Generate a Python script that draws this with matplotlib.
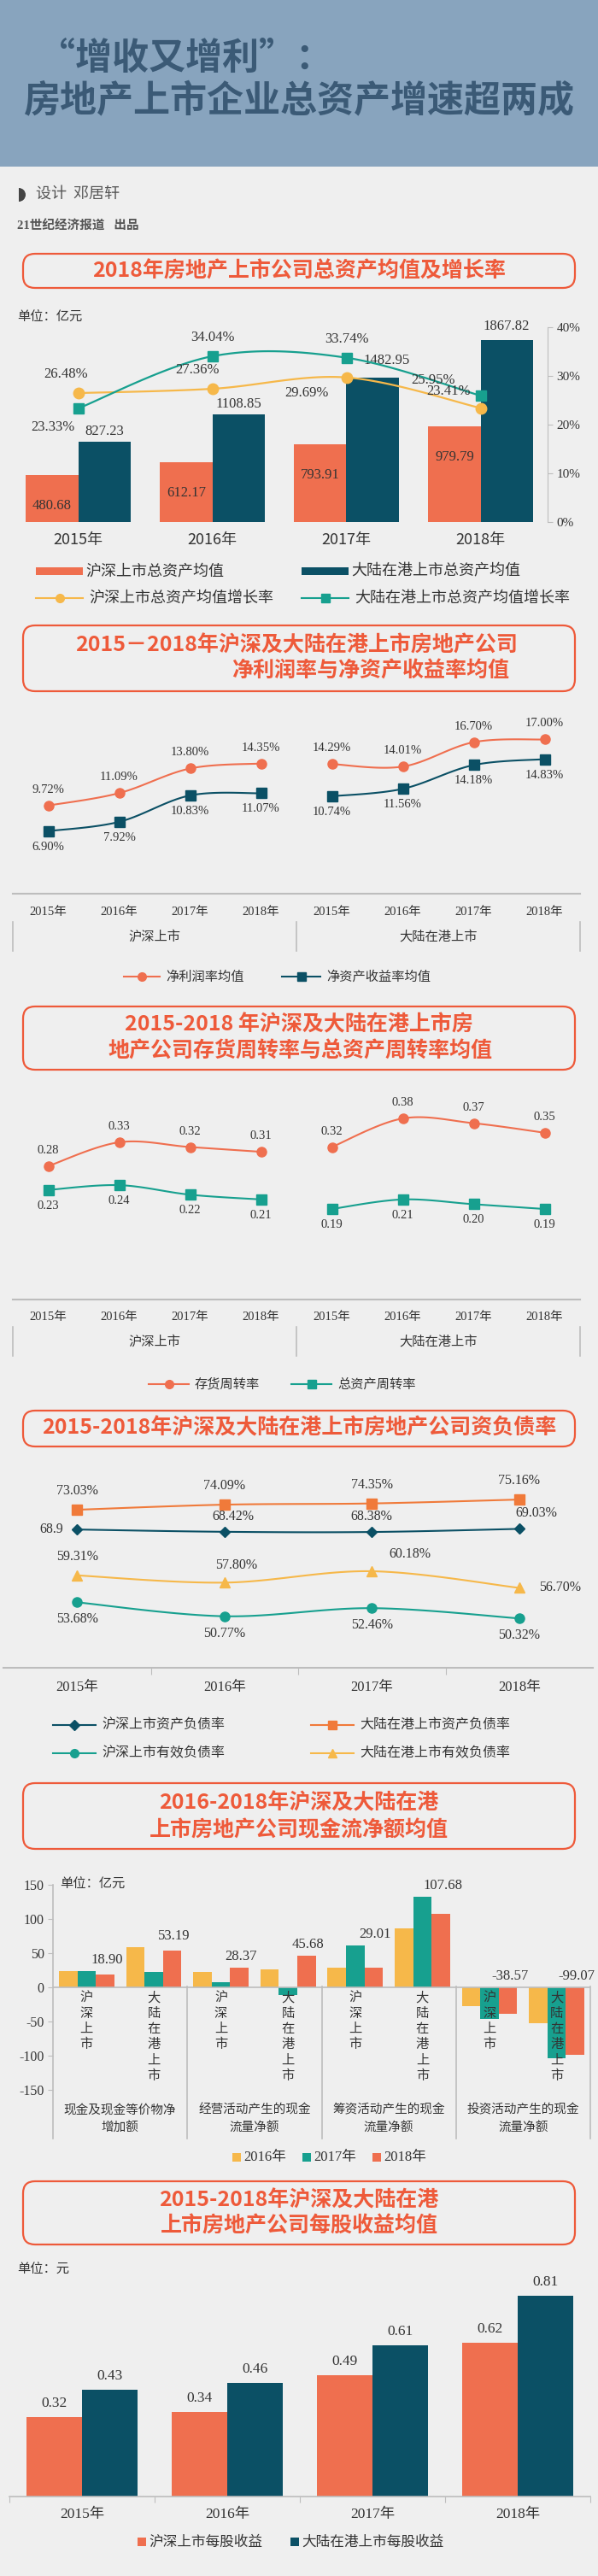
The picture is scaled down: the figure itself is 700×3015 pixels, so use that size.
import numpy as np
import matplotlib
matplotlib.use("Agg")
import matplotlib.pyplot as plt
from matplotlib.patches import Rectangle, FancyBboxPatch, Wedge
from matplotlib.lines import Line2D

plt.rcParams['font.family'] = ['Noto Sans CJK SC', 'DejaVu Sans']
SERIF = ['Liberation Serif', 'Noto Sans CJK SC']

# ---- data ----
years = ['2015年', '2016年', '2017年', '2018年']

# chart 1: total assets (亿元) and growth
sh_assets = [480.68, 612.17, 793.91, 979.79]
hk_assets = [827.23, 1108.85, 1482.95, 1867.82]
sh_growth = [26.48, 27.36, 29.69, 23.41]
hk_growth = [23.33, 34.04, 33.74, 25.95]

# chart 2: net profit margin / ROE
sh_npm = [9.72, 11.09, 13.80, 14.35]
sh_roe = [6.90, 7.92, 10.83, 11.07]
hk_npm = [14.29, 14.01, 16.70, 17.00]
hk_roe = [10.74, 11.56, 14.18, 14.83]

# chart 3: inventory / total asset turnover
sh_inv = [0.28, 0.33, 0.32, 0.31]
sh_tat = [0.23, 0.24, 0.22, 0.21]
hk_inv = [0.32, 0.38, 0.37, 0.35]
hk_tat = [0.19, 0.21, 0.20, 0.19]

# chart 4: debt ratios
sh_debt = [68.90, 68.42, 68.38, 69.03]
hk_debt = [73.03, 74.09, 74.35, 75.16]
sh_eff = [53.68, 50.77, 52.46, 50.32]
hk_eff = [59.31, 57.80, 60.18, 56.70]

# chart 5: cash flow (亿元), 8 bars groups: (沪深, 大陆) x 4 items
cf_items = ['现金及现金等价物净\n增加额', '经营活动产生的现金\n流量净额',
            '筹资活动产生的现金\n流量净额', '投资活动产生的现金\n流量净额']
cf_2016 = [24, 59, 22, 26, 29, 86, -28, -52]
cf_2017 = [24, 22, 8, -11, 61, 133, -46, -104]
cf_2018 = [18.90, 53.19, 28.37, 45.68, 29.01, 107.68, -38.57, -99.07]

# chart 6: EPS (元)
sh_eps = [0.32, 0.34, 0.49, 0.62]
hk_eps = [0.43, 0.46, 0.61, 0.81]

# ---- colors ----
BG = '#efefef'
ORANGE = '#ef6f4f'
NAVY = '#0b5065'
TEAL = '#17a08f'
YELLOW = '#f6b84a'
RED = '#ee5a3a'
GRID = '#bdbdbd'
TXT = '#333333'

W, H = 700, 3015
fig = plt.figure(figsize=(7, 30.15), dpi=100, facecolor=BG)

ov = fig.add_axes([0, 0, 1, 1], zorder=0)
ov.set_xlim(0, W)
ov.set_ylim(H, 0)
ov.axis('off')


def px_axes(x0, y0, x1, y1):
    a = fig.add_axes([x0 / W, 1 - y1 / H, (x1 - x0) / W, (y1 - y0) / H], zorder=2)
    a.set_facecolor('none')
    for s in a.spines.values():
        s.set_visible(False)
    return a


def smooth(x, y, n=25):
    x = np.asarray(x, float)
    y = np.asarray(y, float)
    px = np.concatenate([[x[0]], x, [x[-1]]])
    py = np.concatenate([[y[0]], y, [y[-1]]])
    xs, ys = [], []
    t = np.linspace(0, 1, n)
    for i in range(1, len(px) - 2):
        for arr, out in ((px, xs), (py, ys)):
            p0, p1, p2, p3 = arr[i - 1], arr[i], arr[i + 1], arr[i + 2]
            out.append(0.5 * (2 * p1 + (-p0 + p2) * t + (2 * p0 - 5 * p1 + 4 * p2 - p3) * t ** 2
                              + (-p0 + 3 * p1 - 3 * p2 + p3) * t ** 3))
    return np.concatenate(xs), np.concatenate(ys)


def title_box(y0, y1, lines):
    ov.add_patch(FancyBboxPatch((27, y0), 646, y1 - y0, boxstyle='round,pad=0,rounding_size=14',
                                fc='none', ec=RED, lw=1.6))
    for (x, y, s) in lines:
        ov.text(x, y, s, ha='center', va='center', fontsize=18, fontweight='bold', color=RED)


def leg_line(x, y, color, marker, label, ms=7, w=48, fs=11):
    ov.add_line(Line2D([x, x + w], [y, y], color=color, lw=1.5, marker=None))
    ov.plot([x + w / 2], [y], marker=marker, color=color, ms=ms)
    ov.text(x + w + 7, y, label, va='center', fontsize=fs, color=TXT)


def leg_patch(x, y, color, label, w=10, h=10, fs=11, family=None):
    ov.add_patch(Rectangle((x, y - h / 2), w, h, fc=color, ec='none'))
    ov.text(x + w + 3, y, label, va='center', fontsize=fs, color=TXT, family=family)


# ---- header ----
ov.add_patch(Rectangle((0, 0), W, 195, fc='#88a4be', ec='none'))
ov.text(45, 68, '“增收又增利”：', fontsize=31, fontweight='bold', color='#3b5a76', va='center')
ov.text(350, 118, '房地产上市企业总资产增速超两成', fontsize=31, fontweight='bold',
        color='#3b5a76', va='center', ha='center')
ov.add_patch(Wedge((22, 228), 8, -90, 90, fc='#444444', ec='none'))
ov.text(42, 228, '设计  邓居轩', fontsize=13, color='#555555', va='center')
ov.text(20, 265, '21世纪经济报道   出品', fontsize=10.5, color='#555555', va='center',
        fontweight='bold', family=SERIF)

# ---- chart 1 ----
title_box(297, 337, [(350, 317, '2018年房地产上市公司总资产均值及增长率')])
ov.text(20, 372, '单位：亿元', fontsize=11, color=TXT, va='center', family=SERIF)
ax = px_axes(13, 383, 641, 611)
x = np.arange(4)
bw = 0.39
ax.bar(x - bw / 2, sh_assets, bw, color=ORANGE)
ax.bar(x + bw / 2, hk_assets, bw, color=NAVY)
ax.set_xlim(-0.5, 3.5)
ax.set_ylim(0, 2000)
ax.set_xticks([])
ax.set_yticks([])
for i, v in enumerate(sh_assets):
    ax.annotate(f'{v:.2f}', (i - bw / 2, v), xytext=(0, -28), textcoords='offset pixels',
                ha='center', va='top', fontsize=12, color=TXT, family=SERIF)
hk_off = [(0, 4), (0, 4), (16, 12), (0, 8)]
for i, v in enumerate(hk_assets):
    ax.annotate(f'{v:.2f}', (i + bw / 2, v), xytext=hk_off[i], textcoords='offset pixels',
                ha='center', va='bottom', fontsize=12, color=TXT, family=SERIF)
ax2 = ax.twinx()
ax2.set_facecolor('none')
for s in ax2.spines.values():
    s.set_visible(False)
ax2.spines['right'].set_visible(True)
ax2.spines['right'].set_color(GRID)
ax2.set_ylim(0, 40)
ax2.set_yticks([0, 10, 20, 30, 40])
ax2.set_yticklabels(['0%', '10%', '20%', '30%', '40%'], family=SERIF, fontsize=11, color=TXT)
ax2.tick_params(axis='y', colors=GRID, labelcolor=TXT, length=4)
sx, sy = smooth(x, sh_growth)
ax2.plot(sx, sy, color=YELLOW, lw=1.6)
ax2.plot(x, sh_growth, 'o', color=YELLOW, ms=9)
sx, sy = smooth(x, hk_growth)
ax2.plot(sx, sy, color=TEAL, lw=1.6)
ax2.plot(x, hk_growth, 's', color=TEAL, ms=8)
sh_goff = [(-14, 14), (-17, 14), (-47, -10), (-37, 12)]
hk_goff = [(-30, -14), (0, 14), (0, 14), (-55, 10)]
for i in range(4):
    ax2.annotate(f'{sh_growth[i]:.2f}%', (i, sh_growth[i]), xytext=sh_goff[i], textcoords='offset pixels',
                 ha='center', va='bottom' if sh_goff[i][1] > 0 else 'top', fontsize=12, color=TXT, family=SERIF)
    ax2.annotate(f'{hk_growth[i]:.2f}%', (i, hk_growth[i]), xytext=hk_goff[i], textcoords='offset pixels',
                 ha='center', va='bottom' if hk_goff[i][1] > 0 else 'top', fontsize=12, color=TXT, family=SERIF)
for i, yl in enumerate(years):
    ov.text(13 + 157 * (i + 0.5), 632, yl, ha='center', va='center', fontsize=13, color=TXT)
leg_patch(42, 668, ORANGE, '沪深上市总资产均值', w=55, h=9, fs=13)
leg_patch(353, 668, NAVY, '大陆在港上市总资产均值', w=55, h=9, fs=13)
leg_line(42, 700, YELLOW, 'o', '沪深上市总资产均值增长率', w=55, fs=13)
leg_line(353, 700, TEAL, 's', '大陆在港上市总资产均值增长率', w=55, fs=13)


# ---- chart 2 and 3 helpers ----
def split_chart(y0, y1, ymax, s_top, s_bot, colors, markers, fmt, ylab_axis, ygrp):
    a = px_axes(15, y0, 679, y1)
    a.set_xlim(-0.5, 7.5)
    a.set_ylim(0, ymax)
    a.set_xticks([])
    a.set_yticks([])
    a.spines['bottom'].set_visible(True)
    a.spines['bottom'].set_color(GRID)
    a.spines['bottom'].set_linewidth(1.5)
    for g in range(2):
        xs = np.arange(4) + 4 * g
        for k, (ser, col, mk) in enumerate(zip((s_top[g], s_bot[g]), colors, markers)):
            sx, sy = smooth(xs, ser)
            a.plot(sx, sy, color=col, lw=1.5)
            a.plot(xs, ser, mk, color=col, ms=8)
            for xi, v in zip(xs, ser):
                a.annotate(fmt(v), (xi, v), xytext=(0, 12 if k == 0 else -12), textcoords='offset pixels',
                           ha='center', va='bottom' if k == 0 else 'top', fontsize=10.5, color=TXT, family=SERIF)
    for i in range(8):
        ov.text(15 + 83 * (i + 0.5), ylab_axis, years[i % 4], ha='center', va='center',
                fontsize=10.5, color=TXT, family=SERIF)
    for xb in (15, 347, 679):
        ov.add_line(Line2D([xb, xb], [ygrp - 17, ygrp + 17], color=GRID, lw=1.2))
    ov.text(181, ygrp, '沪深上市', ha='center', va='center', fontsize=11, color=TXT)
    ov.text(513, ygrp, '大陆在港上市', ha='center', va='center', fontsize=11, color=TXT)


title_box(732, 809, [(347, 755, '2015－2018年沪深及大陆在港上市房地产公司'),
                     (434, 786, '净利润率与净资产收益率均值')])
split_chart(823, 1046, 21, (sh_npm, hk_npm), (sh_roe, hk_roe), (ORANGE, NAVY), ('o', 's'),
            lambda v: f'{v:.2f}%', 1067, 1096)
leg_line(145, 1143, ORANGE, 'o', '净利润率均值', w=42, fs=11)
leg_line(330, 1143, NAVY, 's', '净资产收益率均值', w=45, fs=11)

title_box(1178, 1252, [(350, 1199, '2015-2018 年沪深及大陆在港上市房'),
                       (351, 1231, '地产公司存货周转率与总资产周转率均值')])
split_chart(1270, 1521, 0.45, (sh_inv, hk_inv), (sh_tat, hk_tat), (ORANGE, TEAL), ('o', 's'),
            lambda v: f'{v:.2f}', 1542, 1570)
leg_line(174, 1620, ORANGE, 'o', '存货周转率', w=47, fs=11)
leg_line(341, 1620, TEAL, 's', '总资产周转率', w=47, fs=11)

# ---- chart 4 ----
title_box(1651, 1693, [(350, 1671, '2015-2018年沪深及大陆在港上市房地产公司资负债率')])
a4 = px_axes(4, 1728, 694, 1952)
a4.set_xlim(-0.5, 3.5)
a4.set_ylim(40, 80)
a4.set_yticks([])
a4.set_xticks([0.5, 1.5, 2.5])
a4.set_xticklabels([])
a4.tick_params(axis='x', length=6, color=GRID)
a4.spines['bottom'].set_visible(True)
a4.spines['bottom'].set_color(GRID)
a4.spines['bottom'].set_linewidth(1.5)
series4 = [(sh_debt, NAVY, 'D', 6, [(-30, 0), (10, 10), (0, 10), (20, 10)]),
           (hk_debt, '#f07a3a', 's', 8, [(0, 14)] * 4),
           (hk_eff, YELLOW, '^', 8, [(0, 14), (14, 12), (45, 12), (48, 0)]),
           (sh_eff, TEAL, 'o', 8, [(0, -12)] * 4)]
x4 = np.arange(4)
for ser, col, mk, ms, offs in series4:
    sx, sy = smooth(x4, ser)
    a4.plot(sx, sy, color=col, lw=1.5)
    a4.plot(x4, ser, mk, color=col, ms=ms)
    for i, v in enumerate(ser):
        lab = '68.9' if (ser is sh_debt and i == 0) else f'{v:.2f}%'
        dx, dy = offs[i]
        a4.annotate(lab, (i, v), xytext=(dx, dy), textcoords='offset pixels',
                    ha='center', va='bottom' if dy > 0 else ('top' if dy < 0 else 'center'),
                    fontsize=11.5, color=TXT, family=SERIF)
for i, yl in enumerate(years):
    ov.text(4 + 172.5 * (i + 0.5), 1975, yl, ha='center', va='center', fontsize=12, color=TXT, family=SERIF)
leg_line(62, 2019, NAVY, 'D', '沪深上市资产负债率', ms=6, w=50, fs=11.5)
leg_line(364, 2019, '#f07a3a', 's', '大陆在港上市资产负债率', w=50, fs=11.5)
leg_line(62, 2052, TEAL, 'o', '沪深上市有效负债率', w=50, fs=11.5)
leg_line(364, 2052, YELLOW, '^', '大陆在港上市有效负债率', w=50, fs=11.5)

# ---- chart 5 ----
title_box(2087, 2164, [(350, 2110, '2016-2018年沪深及大陆在港'), (350, 2142, '上市房地产公司现金流净额均值')])
a5 = px_axes(62, 2206, 691, 2446)
x5 = np.arange(8)
bw5 = 0.275
a5.bar(x5 - bw5, cf_2016, bw5, color=YELLOW)
a5.bar(x5, cf_2017, bw5, color=TEAL)
a5.bar(x5 + bw5, cf_2018, bw5, color=ORANGE)
a5.axhline(0, color=GRID, lw=1.2)
a5.set_xlim(-0.5, 7.5)
a5.set_ylim(-150, 150)
a5.set_xticks([])
a5.set_yticks([150, 100, 50, 0, -50, -100, -150])
a5.set_yticklabels(['150', '100', '50', '0', '-50', '-100', '-150'], family=SERIF, fontsize=11.5, color=TXT)
a5.tick_params(axis='y', length=4, color=GRID)
for i, v in enumerate(cf_2018):
    top = max(cf_2016[i], cf_2017[i], v, 0)
    a5.annotate(f'{v:.2f}', (i + 0.3, top), xytext=(0, 5), textcoords='offset pixels',
                ha='center', va='bottom', fontsize=12, color=TXT, family=SERIF)
for i in range(8):
    lab = '沪深上市' if i % 2 == 0 else '大陆在港上市'
    a5.text(i, -4, '\n'.join(lab), transform=a5.transData, ha='center', va='top', fontsize=11,
            color=TXT, linespacing=1.1, zorder=5)
ov.add_line(Line2D([62, 62], [2206, 2503], color=GRID, lw=1.2))
for k in range(1, 5):
    xb = 62 + 157.25 * k
    ov.add_line(Line2D([xb, xb], [2325, 2503], color=GRID, lw=1.2))
for k, item in enumerate(cf_items):
    ov.text(62 + 157.25 * (k + 0.5), 2480, item, ha='center', va='center', fontsize=10.5,
            color=TXT, linespacing=1.7)
ov.text(70, 2206, '单位：亿元', fontsize=11, color=TXT, va='center', family=SERIF)
leg_patch(272, 2525, YELLOW, '2016年', fs=12, family=SERIF)
leg_patch(354, 2525, TEAL, '2017年', fs=12, family=SERIF)
leg_patch(436, 2525, ORANGE, '2018年', fs=12, family=SERIF)

# ---- chart 6 ----
title_box(2553, 2627, [(350, 2575, '2015-2018年沪深及大陆在港'), (350, 2606, '上市房地产公司每股收益均值')])
ov.text(20, 2657, '单位：元', fontsize=11, color=TXT, va='center', family=SERIF)
a6 = px_axes(11, 2661, 691, 2922)
bw6 = 0.385
a6.bar(x - bw6 / 2, sh_eps, bw6, color=ORANGE)
a6.bar(x + bw6 / 2, hk_eps, bw6, color=NAVY)
a6.set_xlim(-0.5, 3.5)
a6.set_ylim(0, 0.9)
a6.set_yticks([])
a6.set_xticks([-0.5, 0.5, 1.5, 2.5, 3.5])
a6.set_xticklabels([])
a6.tick_params(axis='x', length=5, color=GRID)
a6.spines['bottom'].set_visible(True)
a6.spines['bottom'].set_color(GRID)
a6.spines['bottom'].set_linewidth(1.2)
for i in range(4):
    a6.annotate(f'{sh_eps[i]:.2f}', (i - bw6 / 2, sh_eps[i]), xytext=(0, 8), textcoords='offset pixels',
                ha='center', va='bottom', fontsize=12.5, color=TXT, family=SERIF)
    a6.annotate(f'{hk_eps[i]:.2f}', (i + bw6 / 2, hk_eps[i]), xytext=(0, 8), textcoords='offset pixels',
                ha='center', va='bottom', fontsize=12.5, color=TXT, family=SERIF)
for i, yl in enumerate(years):
    ov.text(11 + 170 * (i + 0.5), 2943, yl, ha='center', va='center', fontsize=12.5, color=TXT, family=SERIF)
leg_patch(161, 2975, ORANGE, '沪深上市每股收益', fs=12)
leg_patch(340, 2975, NAVY, '大陆在港上市每股收益', fs=12)

fig.savefig('out.png', dpi=100, facecolor=BG)
